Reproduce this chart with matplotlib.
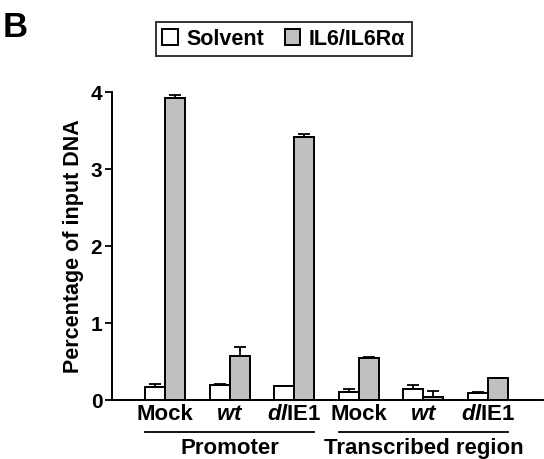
import numpy as np
import matplotlib
matplotlib.use("Agg")
import matplotlib.pyplot as plt
import matplotlib.transforms as mtransforms

plt.rcParams['font.family'] = ['Liberation Sans', 'DejaVu Sans']
plt.rcParams['font.weight'] = 'bold'
plt.rcParams['axes.labelweight'] = 'bold'
plt.rcParams['mathtext.fontset'] = 'custom'
plt.rcParams['mathtext.rm'] = 'Liberation Sans:bold'
plt.rcParams['mathtext.it'] = 'Liberation Sans:italic:bold'
plt.rcParams['mathtext.bf'] = 'Liberation Sans:bold'

# data
samples = ["Mock", r"$\mathit{wt}$", r"$\mathit{dl}$IE1",
           "Mock", r"$\mathit{wt}$", r"$\mathit{dl}$IE1"]
regions = ["Promoter", "Transcribed region"]
solvent = [0.17, 0.19, 0.18, 0.11, 0.14, 0.09]
solvent_err = [0.04, 0.015, 0.006, 0.03, 0.05, 0.01]
il6 = [3.92, 0.57, 3.42, 0.54, 0.04, 0.28]
il6_err = [0.04, 0.12, 0.04, 0.015, 0.08, 0.012]

x = np.arange(len(samples))
w = 0.31

fig = plt.figure(figsize=(5.44, 4.59), dpi=100)
ax = fig.add_axes([0.206, 0.1285, 0.792, 0.671])

ekw = dict(elinewidth=1.3, capthick=1.3, ecolor='black')
ax.bar(x - w/2, solvent, w, color='white', edgecolor='black', linewidth=1.4,
       yerr=[np.zeros(len(x)), solvent_err], capsize=4, error_kw=ekw, label='Solvent')
ax.bar(x + w/2, il6, w, color='#c0c0c0', edgecolor='black', linewidth=1.4,
       yerr=[np.zeros(len(x)), il6_err], capsize=4, error_kw=ekw, label='IL6/IL6Rα')

ax.set_xlim(-0.82, 5.85)
ax.set_ylim(0, 4)
ax.set_yticks([0, 1, 2, 3, 4])
ax.set_xticks(x)
ax.set_xticklabels(samples, fontsize=16)
ax.tick_params(axis='x', length=0, pad=3)
ax.tick_params(axis='y', length=5, width=1.3, labelsize=15, pad=2)
for s in ['top', 'right']:
    ax.spines[s].set_visible(False)
for s in ['left', 'bottom']:
    ax.spines[s].set_linewidth(1.4)
ax.set_ylabel("Percentage of input DNA", fontsize=15.5, labelpad=5)

# group brackets under the tick labels
trans = mtransforms.blended_transform_factory(ax.transData, ax.transAxes)
for g, name in enumerate(regions):
    lo = x[3*g] - w
    hi = x[3*g + 2] + w
    ax.plot([lo, hi], [-0.103, -0.103], color='black', lw=1.3,
            transform=trans, clip_on=False)
    ax.text((lo + hi) / 2, -0.158, name, transform=trans, ha='center', va='center',
            fontsize=16)

leg = fig.legend(loc='center', bbox_to_anchor=(0.522, 0.915), ncol=2, fontsize=15.5,
                 frameon=True, fancybox=False, edgecolor='black', handlelength=0.7,
                 handleheight=0.7, handletextpad=0.4, columnspacing=1.0,
                 borderpad=0.3)
leg.get_frame().set_linewidth(1.4)

fig.text(0.005, 0.975, "B", fontsize=25, ha='left', va='top')

fig.savefig("out.png", dpi=100)
